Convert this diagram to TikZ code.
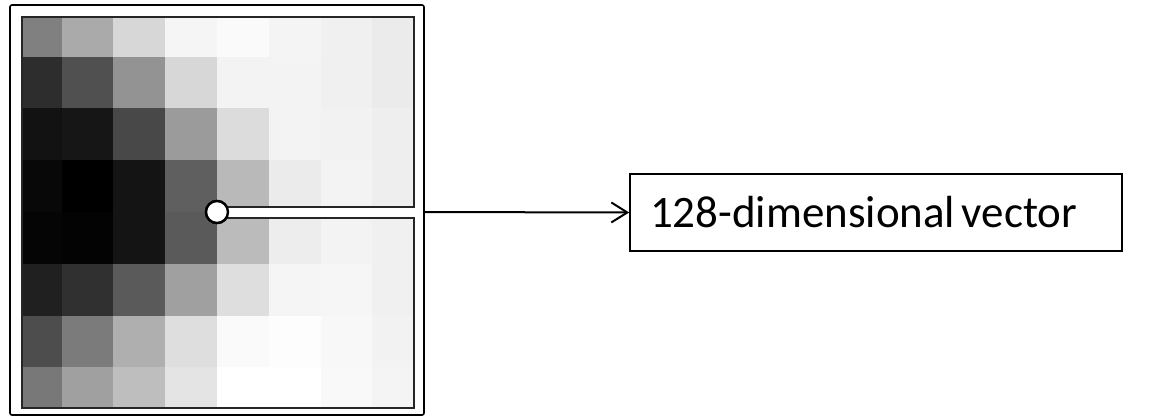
\documentclass[tikz,border=0pt]{standalone}
\usepackage{fontspec}
\setmainfont{Carlito}
\usetikzlibrary{arrows.meta}
\def\cellsize{51.8}

\tikzset{
  framebox/.style={line width=0.8pt, rounded corners=1pt},
  keypoint/.style={circle, draw, fill=white, line width=1.2pt, minimum size=11pt, inner sep=0pt},
  vecbox/.style={draw, line width=0.8pt, inner xsep=10pt, text width=226pt, align=left, minimum height=38.5pt},
}

\begin{document}
\begin{tikzpicture}[x=0.5pt, y=-0.5pt]
			%%%%% START %%%%%
			\useasboundingbox (0, 0) rectangle (1157, 418);
			
			% gray cells of the patch
			\begin{scope}
				\clip (22, 17) rectangle (414, 408);
				\foreach \r/\vals in {
					0/{128,170,215,245,250,244,240,235},
					1/{45,80,147,215,243,243,240,235},
					2/{18,22,72,155,220,243,242,238},
					3/{8,0,20,95,185,235,243,238},
					4/{5,3,20,90,187,237,243,240},
					5/{32,48,90,160,222,245,246,240},
					6/{77,123,175,222,250,253,248,242},
					7/{120,160,190,228,255,255,249,244}}
				{
					\foreach \g [count=\c from 0] in \vals {
						\definecolor{cellc}{RGB}{\g,\g,\g}
						\fill[cellc] ({217+(\c-4)*\cellsize}, {212+(\r-4)*\cellsize}) rectangle ++(\cellsize, \cellsize);
					}
				}
			\end{scope}
			
			% frames
			\draw[line width=1pt, color=black!85] (22, 17) rectangle (414, 408);
			\draw[framebox] (10, 5) rectangle (424, 415);
			
			% key point and its channel
			\node[keypoint] (kp) at (217, 212) {};
			\draw[line width=6.5pt, color=black!85] (kp.center) -- (414.5, 212);
			\draw[line width=4.5pt, color=white] (kp.center) -- (417, 212);
			\node[keypoint] at (kp.center) {};
			
			% output
			\coordinate (fr) at (424, 212);
			\node[vecbox] (vec) at (876, 212.5) {\fontsize{22.5}{26}\selectfont 128-dimensional vector};
			\draw[line width=1pt, -{Straight Barb[length=8pt, width=10pt]}] (fr) -- (vec.west);
			
			%%%%% END %%%%%
\end{tikzpicture}
\end{document}
